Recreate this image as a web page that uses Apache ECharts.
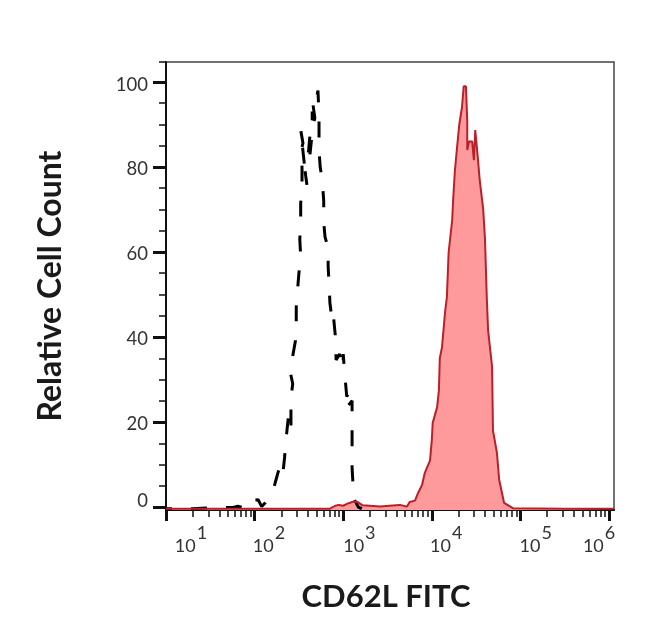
<!DOCTYPE html>
<html>
<head>
    <meta charset="utf-8">
    <title>CD62L FITC</title>
    <script src="https://cdn.jsdelivr.net/npm/echarts@6/dist/echarts.min.js"></script>
    <style>
        html, body { margin: 0; padding: 0; background: #fff; }
        #main { width: 650px; height: 641px; }
    </style>
</head>
<body>
<div id="main"></div>
<script type="text/javascript">
    // values, x is log10 of the FITC signal
    var blackLogFitc = [1.00, 1.27, 1.50, 1.76, 1.81, 1.87, 1.93, 1.97, 1.99, 2.04, 2.08, 2.12, 2.15, 2.21, 2.24, 2.29, 2.32, 2.34, 2.35, 2.38, 2.37, 2.41, 2.41, 2.43, 2.40, 2.46, 2.47, 2.47, 2.48, 2.50, 2.52, 2.51, 2.52, 2.52, 2.535, 2.535, 2.52, 2.546, 2.52, 2.57, 2.59, 2.57, 2.61, 2.625, 2.625, 2.66, 2.68, 2.65, 2.65, 2.715, 2.727, 2.727, 2.74, 2.76, 2.77, 2.78, 2.78, 2.795, 2.83, 2.83, 2.84, 2.85, 2.87, 2.885, 2.91, 2.92, 2.96, 3.00, 3.00, 3.02, 3.04, 3.065, 3.04, 3.10, 3.10, 3.10, 3.10, 3.10, 3.11, 3.12, 3.17, 3.21];
    var blackCount = [-0.4, -0.4, -0.2, -0.1, 0.2, -0.1, 0.3, 0.1, 1.6, 1.7, 0.1, 1.0, 2.0, 4.0, 6.3, 10, 8, 12, 15, 21, 22, 19, 25.6, 29, 32, 39, 42, 47, 50, 55, 59, 63, 67, 71.5, 75, 80, 83.5, 85.6, 88.7, 79, 75.8, 79, 84, 87.5, 83, 90, 91.5, 96, 91, 98, 92, 84, 80, 77.4, 75, 72, 67, 63.5, 61, 56.5, 52.7, 48, 44.7, 46, 40.5, 34.6, 36, 32.7, 36, 30.6, 26, 26.8, 23.5, 25, 21.6, 17.4, 13.4, 9.2, 5.6, 2, 0, -0.4];

    var redLogFitc = [1.00, 2.50, 2.85, 2.91, 2.95, 3.00, 3.06, 3.12, 3.16, 3.22, 3.30, 3.415, 3.52, 3.64, 3.72, 3.75, 3.81, 3.845, 3.89, 3.92, 3.98, 4.00, 4.01, 4.06, 4.08, 4.09, 4.115, 4.15, 4.17, 4.19, 4.23, 4.24, 4.26, 4.285, 4.31, 4.34, 4.36, 4.385, 4.40, 4.42, 4.40, 4.42, 4.455, 4.475, 4.49, 4.51, 4.52, 4.54, 4.58, 4.60, 4.62, 4.635, 4.68, 4.69, 4.735, 4.76, 4.815, 4.92, 5.50, 6.05];
    var redCount = [-0.4, -0.4, -0.4, 0.3, 0.5, 0.3, 0.9, 1.3, 1.2, 0.4, 0.3, 0.1, 0.3, 0.5, 0.1, 1.2, 1.5, 3.3, 5.2, 8, 11, 15.8, 19.8, 23.5, 27.5, 35, 37.6, 46, 49.4, 60, 67.5, 72, 79, 84.7, 90, 94, 99, 99, 90.6, 90.6, 84, 86, 86, 81.6, 88.7, 88.7, 82, 77, 70, 63, 49.4, 41.6, 33, 18, 12.7, 6.4, 1, -0.3, -0.4, -0.4];

    var xDecades = [1, 2, 3, 4, 5, 6];
    var xLabelLogPos = [1.10, 1.98, 3.00, 3.98, 4.99, 5.705];
    var yMajor = [0, 20, 40, 60, 80, 100];
    var yMinor = [5, 10, 15, 25, 30, 35, 45, 50, 55, 65, 70, 75, 85, 90, 95, 104.7];
    var yLabelPos = [1.4, 19.5, 39.5, 59.5, 79.5, 99.3];

    var X_MIN = 10;
    var X_MAX = Math.pow(10, 6.056);
    var Y_MIN = -0.7;
    var Y_MAX = 104.7;

    function pairs(logs, counts) {
        return logs.map(function (e, i) {
            return [Math.pow(10, e), counts[i]];
        });
    }

    // customValues labels get no index, so look up the closest position
    function nearestIndex(list, v) {
        var best = 0;
        list.forEach(function (p, i) {
            if (Math.abs(p - v) < Math.abs(list[best] - v)) {
                best = i;
            }
        });
        return best;
    }

    var xMinor = [];
    xDecades.slice(0, 5).forEach(function (d) {
        for (var k = 2; k <= 9; k++) {
            xMinor.push(k * Math.pow(10, d));
        }
    });

    var myChart = echarts.init(document.getElementById('main'));

    var option = {
        animation: false,
        backgroundColor: '#ffffff',
        grid: {
            show: true,
            left: 166,
            right: 36,
            top: 62,
            bottom: 131,
            borderColor: '#444444',
            borderWidth: 1.5
        },
        xAxis: [
            {
                type: 'log',
                position: 'bottom',
                min: X_MIN,
                max: X_MAX,
                name: 'CD62L FITC',
                nameLocation: 'middle',
                nameGap: 71,
                nameTextStyle: { fontFamily: 'Lato', fontSize: 31, fontWeight: 'bold', color: '#1a1a1a', padding: [0, 8, 0, 0] },
                splitLine: { show: false },
                axisLine: { show: true, onZero: false, lineStyle: { color: '#111111', width: 2 } },
                axisTick: {
                    show: true,
                    length: 11,
                    lineStyle: { color: '#111111', width: 3 },
                    customValues: xDecades.map(function (d) { return Math.pow(10, d); })
                },
                axisLabel: {
                    margin: 14,
                    align: 'left',
                    showMinLabel: true,
                    showMaxLabel: true,
                    customValues: xLabelLogPos.map(function (e) { return Math.pow(10, e); }),
                    formatter: function (value) {
                        var i = nearestIndex(xLabelLogPos, Math.log10(value));
                        return '{b|10}{s|' + xDecades[i] + '}';
                    },
                    rich: {
                        b: { fontFamily: 'Lato', fontSize: 18, color: '#333333', padding: [8, 0, 0, 0] },
                        s: { fontFamily: 'Lato', fontSize: 18, color: '#333333', padding: [0, 0, 18, 1] }
                    }
                }
            },
            {
                type: 'log',
                position: 'bottom',
                min: X_MIN,
                max: X_MAX,
                splitLine: { show: false },
                axisLine: { show: false, onZero: false },
                axisLabel: { show: false },
                axisTick: {
                    show: true,
                    length: 7,
                    lineStyle: { color: '#111111', width: 1.5 },
                    customValues: xMinor
                }
            }
        ],
        yAxis: [
            {
                type: 'value',
                position: 'left',
                min: Y_MIN,
                max: Y_MAX,
                name: 'Relative Cell Count',
                nameLocation: 'middle',
                nameGap: 99,
                nameTextStyle: { fontFamily: 'Lato', fontSize: 32, fontWeight: 'bold', color: '#1a1a1a' },
                splitLine: { show: false },
                axisLine: { show: true, onZero: false, lineStyle: { color: '#111111', width: 2 } },
                axisTick: {
                    show: true,
                    length: 13,
                    lineStyle: { color: '#111111', width: 3 },
                    customValues: yMajor
                },
                axisLabel: {
                    margin: 18,
                    fontFamily: 'Lato',
                    fontSize: 18.5,
                    color: '#333333',
                    showMinLabel: true,
                    showMaxLabel: true,
                    customValues: yLabelPos,
                    formatter: function (value) {
                        return String(yMajor[nearestIndex(yLabelPos, value)]);
                    }
                }
            },
            {
                type: 'value',
                position: 'left',
                min: Y_MIN,
                max: Y_MAX,
                splitLine: { show: false },
                axisLine: { show: false, onZero: false },
                axisLabel: { show: false },
                axisTick: {
                    show: true,
                    length: 7,
                    lineStyle: { color: '#111111', width: 1.5 },
                    customValues: yMinor
                }
            }
        ],
        series: [
            {
                name: 'Isotype control',
                type: 'line',
                data: pairs(blackLogFitc, blackCount),
                showSymbol: false,
                silent: true,
                lineStyle: { color: '#000000', width: 3, type: [16, 19], dashOffset: 10 }
            },
            {
                name: 'CD62L FITC',
                type: 'line',
                data: pairs(redLogFitc, redCount),
                showSymbol: false,
                silent: true,
                lineStyle: { color: '#b8202a', width: 2 },
                areaStyle: { color: '#ff9a9c', opacity: 1, origin: 'start' }
            }
        ]
    };

    myChart.setOption(option);
</script>
</body>
</html>
